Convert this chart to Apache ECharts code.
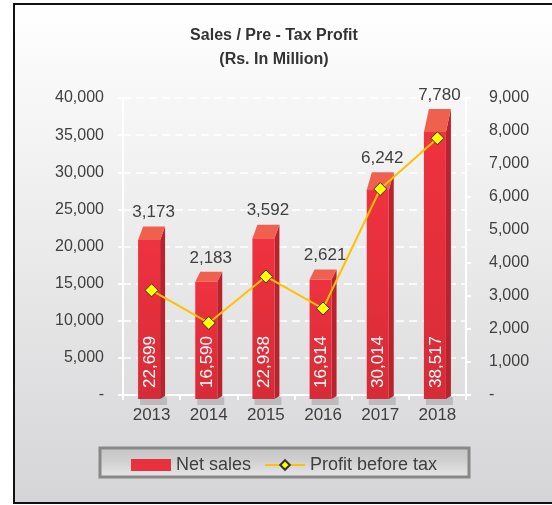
<!DOCTYPE html>
<html>
<head>
<meta charset="utf-8">
<title>Sales / Pre - Tax Profit</title>
<script src="https://cdn.jsdelivr.net/npm/echarts@6/dist/echarts.min.js"></script>
<style>
  html, body { margin: 0; padding: 0; background: #fff; }
  #chart { width: 552px; height: 505px; }
</style>
</head>
<body>
<div id="chart"></div>
<script>
// data
var years = ['2013', '2014', '2015', '2016', '2017', '2018'];
var netSales = [22699, 16590, 22938, 16914, 30014, 38517];
var profit = [3173, 2183, 3592, 2621, 6242, 7780];

var fontName = 'Liberation Sans';
var textColor = '#404040';

function fmt(v) {
    return v === 0 ? '-' : v.toLocaleString('en-US');
}

// 3D looking bar drawn from the axis coords
function renderBar(params, api) {
    var idx = api.value(0);
    var top = api.coord([idx, api.value(1)]);
    var base = api.coord([idx, 0]);
    var cx = top[0] - 2.5;
    var hw = 11, dx = 5;
    var depth = (base[1] - top[1]) * 0.08;
    var ty = top[1];
    var fy = ty + depth;
    var fb = base[1] + 4;
    return {
        type: 'group',
        children: [
            { type: 'rect', shape: { x: cx - hw + 2, y: fb - 2, width: 2 * hw + dx, height: 8 },
              style: { fill: 'rgba(110,110,110,0.3)' } },
            { type: 'polygon', shape: { points: [[cx + hw, fy], [cx + hw + dx, ty], [cx + hw + dx, fb - 3], [cx + hw, fb]] },
              style: { fill: '#b8232e' } },
            { type: 'rect', shape: { x: cx - hw, y: fy, width: 2 * hw, height: fb - fy },
              style: { fill: new echarts.graphic.LinearGradient(0, 0, 0, 1, [
                  { offset: 0, color: '#ef323f' }, { offset: 1, color: '#d62c37' }]) } },
            { type: 'polygon', shape: { points: [[cx - hw, fy], [cx + hw, fy], [cx + hw + dx, ty], [cx - hw + dx, ty]] },
              style: { fill: '#f0604e' } },
            { type: 'text', x: cx + 1, y: fb - 11, rotation: Math.PI / 2,
              style: { text: fmt(api.value(1)), fill: '#fff', font: '17px ' + fontName,
                       align: 'left', verticalAlign: 'middle' } },
            { type: 'text', x: cx + dx / 2 + 2, y: ty - 14,
              style: { text: fmt(api.value(2)), fill: textColor, font: '17px ' + fontName,
                       align: 'center', verticalAlign: 'middle' } }
        ]
    };
}

var chart = echarts.init(document.getElementById('chart'));
chart.setOption({
    animation: false,
    title: {
        text: 'Sales / Pre - Tax Profit\n(Rs. In Million)',
        left: 269, top: 19, textAlign: 'center',
        textStyle: { fontFamily: fontName, fontSize: 16, fontWeight: 'bold', color: '#333', lineHeight: 24 }
    },
    graphic: [
        { type: 'rect', z: -10, silent: true,
          shape: { x: 14, y: 4, width: 700, height: 499 },
          style: { stroke: '#111', lineWidth: 2,
                   fill: new echarts.graphic.LinearGradient(0, 0, 0, 1, [
                       { offset: 0, color: '#ffffff' }, { offset: 1, color: '#d5d5d7' }]) } },
        { type: 'rect', z: 1, silent: true,
          shape: { x: 100, y: 448, width: 369, height: 29 },
          style: { stroke: '#888', lineWidth: 3,
                   fill: new echarts.graphic.LinearGradient(0, 0, 0, 1, [
                       { offset: 0, color: '#c4c4c4' }, { offset: 0.45, color: '#d0d0d0' },
                       { offset: 0.75, color: '#dedede' }, { offset: 1, color: '#e6e6e6' }]) } }
    ],
    legend: {
        left: 131, top: 456, padding: 0, itemGap: 13,
        itemWidth: 40, itemHeight: 12,
        textStyle: { fontFamily: fontName, fontSize: 18, color: textColor },
        data: [{ name: 'Net sales', icon: 'rect' }, { name: 'Profit before tax' }]
    },
    grid: { left: 123, right: 86, top: 98, bottom: 110 },
    xAxis: {
        type: 'category', data: years,
        axisLine: { lineStyle: { color: '#fff', width: 2 } },
        axisTick: { show: true, length: 5, lineStyle: { color: '#fff', width: 2 } },
        axisLabel: { margin: 12, fontFamily: fontName, fontSize: 17, color: textColor }
    },
    yAxis: [{
        type: 'value', min: 0, max: 40000, interval: 5000,
        axisLine: { show: true, lineStyle: { color: '#fff', width: 2 } },
        axisTick: { show: true, length: 5, lineStyle: { color: '#fff', width: 2 } },
        splitLine: { lineStyle: { color: '#fff', type: [8, 5], width: 1.5 } },
        axisLabel: { margin: 19, fontFamily: fontName, fontSize: 16, color: textColor, formatter: fmt }
    }, {
        type: 'value', min: 0, max: 9000, interval: 1000,
        axisLine: { show: true, lineStyle: { color: '#fff', width: 2 } },
        axisTick: { show: true, length: 5, lineStyle: { color: '#fff', width: 2 } },
        splitLine: { show: false },
        axisLabel: { margin: 23, fontFamily: fontName, fontSize: 16, color: textColor, formatter: fmt }
    }],
    series: [{
        name: 'Net sales', type: 'custom', clip: false,
        itemStyle: { color: '#e8313d' },
        renderItem: renderBar,
        encode: { x: 0, y: 1 },
        data: years.map(function (y, i) { return [i, netSales[i], profit[i]]; })
    }, {
        name: 'Profit before tax', type: 'line', yAxisIndex: 1, z: 5,
        symbol: 'diamond', symbolSize: 13,
        lineStyle: { color: '#ffc000', width: 2 },
        itemStyle: { color: '#ffff00', borderColor: '#333', borderWidth: 1 },
        data: profit
    }]
});
</script>
</body>
</html>
